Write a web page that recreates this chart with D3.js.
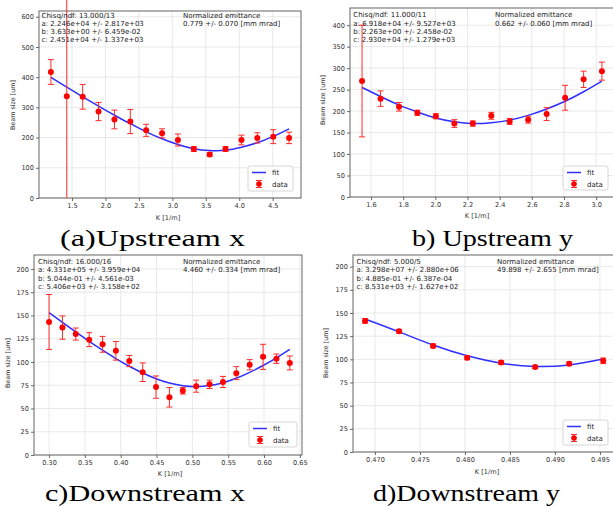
<!DOCTYPE html>
<html>
<head>
<meta charset="utf-8">
<script src="https://cdn.jsdelivr.net/npm/d3@7"></script>
<style>
  html, body { margin: 0; padding: 0; background: #fff; }
  svg { display: block; }
</style>
</head>
<body>
<div id="vis"></div>
<script>
// ---- data ----
// (a) Upstream x
var kUpX = [1.184, 1.421, 1.659, 1.896, 2.134, 2.371, 2.608, 2.846, 3.083, 3.321, 3.558, 3.795, 4.033, 4.270, 4.508, 4.745];
var sizeUpX = [417, 337, 335, 286, 260, 253, 224, 214, 192, 162, 144, 162, 192, 199, 203, 199];
var errUpX = [41, 340, 41, 30, 31, 40, 20, 15, 20, 8, 6, 8, 16, 17, 23, 19];
var fitUpX = [399, 367, 335, 304, 274, 246, 219, 196, 177, 163, 157, 158, 168, 183, 204, 229];
var textUpX = ["Chisq/ndf: 13.000/13", "a: 2.246e+04 +/- 2.817e+03", "b: 3.633e+00 +/- 6.459e-02", "c: 2.451e+04 +/- 1.337e+03"];
var emitUpX = ["Normalized emittance", "0.779 +/- 0.070 [mm mrad]"];

// (b) Upstream y
var kUpY = [1.544, 1.659, 1.774, 1.888, 2.003, 2.118, 2.233, 2.348, 2.462, 2.577, 2.692, 2.807, 2.922, 3.036];
var sizeUpY = [270, 229, 210, 196, 188, 171, 171, 189, 176, 180, 193, 231, 274, 293];
var errUpY = [130, 18, 10, 6, 6, 9, 6, 8, 7, 8, 15, 29, 19, 21];
var fitUpY = [255, 234, 214, 198, 184, 175, 171, 173, 179, 190, 205, 223, 245, 270];
var textUpY = ["Chisq/ndf: 11.000/11", "a: 6.918e+04 +/- 9.527e+03", "b: 2.263e+00 +/- 2.458e-02", "c: 2.930e+04 +/- 1.279e+03"];
var emitUpY = ["Normalized emittance", "0.662 +/- 0.060 [mm mrad]"];

// (c) Downstream x
var kDownX = [0.300, 0.3187, 0.3373, 0.356, 0.3747, 0.3933, 0.412, 0.4307, 0.4493, 0.468, 0.4867, 0.5053, 0.524, 0.5427, 0.5613, 0.580, 0.5987, 0.6173, 0.636];
var sizeDownX = [143, 137, 130, 124, 119, 112, 101, 89, 73, 62, 69, 74, 76, 78.5, 88, 97, 105.5, 103.5, 99];
var errDownX = [29.5, 12.5, 6.5, 7.5, 8.5, 10, 6, 10, 12, 10.5, 3.5, 6.5, 4.5, 6, 7, 5.5, 13.5, 5, 7.5];
var fitDownX = [153, 142.6, 132.3, 122.2, 112.7, 103.7, 95.4, 88.1, 82, 77.3, 74.4, 73.5, 74.6, 77.7, 82.5, 88.8, 96.2, 104.5, 113.6];
var textDownX = ["Chisq/ndf: 16.000/16", "a: 4.331e+05 +/- 3.959e+04", "b: 5.044e-01 +/- 4.561e-03", "c: 5.406e+03 +/- 3.158e+02"];
var emitDownX = ["Normalized emittance", "4.460 +/- 0.334 [mm mrad]"];

// (d) Downstream y
var kDownY = [0.4689, 0.47268, 0.47646, 0.48024, 0.48402, 0.4878, 0.49158, 0.49536];
var sizeDownY = [141.5, 130.3, 114.5, 101.6, 96.6, 91.6, 95.2, 98.4];
var errDownY = [2.5, 2, 2, 2, 2, 1.5, 2, 3];
var fitDownY = [143.5, 129.6, 115.4, 103.8, 95.9, 92.4, 94, 100.4];
var textDownY = ["Chisq/ndf: 5.000/5", "a: 3.298e+07 +/- 2.880e+06", "b: 4.885e-01 +/- 6.387e-04", "c: 8.531e+03 +/- 1.627e+02"];
var emitDownY = ["Normalized emittance", "49.898 +/- 2.655 [mm mrad]"];

var svg = d3.select("#vis").append("svg")
    .attr("width", 613)
    .attr("height", 507)
    .style("font-family", "DejaVu Sans");

svg.append("rect").attr("width", 613).attr("height", 507).attr("fill", "#fff");

var panels = [
    { id: "a", k: kUpX, y: sizeUpX, e: errUpX, fit: fitUpX, text: textUpX, emit: emitUpX,
      box: { x0: 39, x1: 301, y0: 11, y1: 198 }, xd: [1.006, 4.923], yd: [0, 619],
      xt: d3.range(1.5, 4.51, 0.5), yt: d3.range(0, 601, 100), xf: d3.format(".1f"),
      txt: { x: 41.5, y: 17.5, ex: 183 }, leg: { x: 248, y: 166, w: 45, h: 25 },
      ylab: { x: 12.7, y: 105 }, xlab: { x: 168, y: 219.5 },
      cap: { text: "(a)Upstream x", x: 60, y: 246, w: 185 } },
    { id: "b", k: kUpY, y: sizeUpY, e: errUpY, fit: fitUpY, text: textUpY, emit: emitUpY,
      box: { x0: 350, x1: 614, y0: 8, y1: 197 }, xd: [1.469, 3.111], yd: [0, 440],
      xt: d3.range(1.6, 3.01, 0.2), yt: d3.range(0, 401, 50), xf: d3.format(".1f"),
      txt: { x: 353.3, y: 17.3, ex: 495 }, leg: { x: 563, y: 166, w: 45, h: 24 },
      ylab: { x: 323, y: 100 }, xlab: { x: 477, y: 217.5 },
      cap: { text: "b) Upstream y", x: 412, y: 246, w: 161 } },
    { id: "c", k: kDownX, y: sizeDownX, e: errDownX, fit: fitDownX, text: textDownX, emit: emitDownX,
      box: { x0: 34, x1: 302, y0: 255, y1: 455 }, xd: [0.279, 0.653], yd: [0, 215],
      xt: d3.range(0.30, 0.651, 0.05), yt: d3.range(0, 201, 25), xf: d3.format(".2f"),
      txt: { x: 38, y: 264, ex: 183 }, leg: { x: 249, y: 422, w: 48, h: 25 },
      ylab: { x: 7.3, y: 363 }, xlab: { x: 170, y: 476 },
      cap: { text: "c)Downstream x", x: 45, y: 501, w: 200 } },
    { id: "d", k: kDownY, y: sizeDownY, e: errDownY, fit: fitDownY, text: textDownY, emit: emitDownY,
      box: { x0: 353, x1: 616, y0: 255, y1: 452 }, xd: [0.46756, 0.49678], yd: [0, 212.6],
      xt: d3.range(0.470, 0.4951, 0.005), yt: d3.range(0, 201, 25), xf: d3.format(".3f"),
      txt: { x: 356.5, y: 264, ex: 497 }, leg: { x: 563, y: 420, w: 45, h: 25 },
      ylab: { x: 325.7, y: 353 }, xlab: { x: 487, y: 474 },
      cap: { text: "d)Downstream y", x: 373, y: 501, w: 187 } }
];

panels.forEach(function (p) {
    var b = p.box;
    var x = d3.scaleLinear().domain(p.xd).range([b.x0, b.x1]);
    var y = d3.scaleLinear().domain(p.yd).range([b.y1, b.y0]);
    var g = svg.append("g");

    // clip: x inside the frame, y from the top of the picture down to the axis
    g.append("clipPath").attr("id", "clip-" + p.id)
        .append("rect")
        .attr("x", b.x0).attr("y", 0)
        .attr("width", b.x1 - b.x0).attr("height", b.y1);

    // grid
    g.selectAll(".gx").data(p.xt).enter().append("line")
        .attr("x1", function (d) { return x(d); }).attr("x2", function (d) { return x(d); })
        .attr("y1", b.y0).attr("y2", b.y1)
        .attr("stroke", "#e3e3e3").attr("stroke-width", 0.8);
    g.selectAll(".gy").data(p.yt).enter().append("line")
        .attr("y1", function (d) { return y(d); }).attr("y2", function (d) { return y(d); })
        .attr("x1", b.x0).attr("x2", b.x1)
        .attr("stroke", "#e3e3e3").attr("stroke-width", 0.8);

    // axes
    var xa = g.append("g")
        .attr("transform", "translate(0," + b.y1 + ")")
        .call(d3.axisBottom(x).tickValues(p.xt).tickFormat(p.xf).tickSizeOuter(0).tickSize(3));
    var ya = g.append("g")
        .attr("transform", "translate(" + b.x0 + ",0)")
        .call(d3.axisLeft(y).tickValues(p.yt).tickFormat(d3.format("d")).tickSizeOuter(0).tickSize(3));
    [xa, ya].forEach(function (a) {
        a.select("path.domain").remove();
        a.selectAll(".tick line").attr("stroke", "#444").attr("stroke-width", 0.8);
        a.selectAll(".tick text")
            .attr("fill", "#333")
            .style("font-family", "DejaVu Sans")
            .style("font-size", "6.6px");
    });
    xa.selectAll(".tick text").attr("dy", "0.9em").attr("y", 4);
    ya.selectAll(".tick text").attr("x", -5);

    // frame
    g.append("rect")
        .attr("x", b.x0).attr("y", b.y0)
        .attr("width", b.x1 - b.x0).attr("height", b.y1 - b.y0)
        .attr("fill", "none").attr("stroke", "#555").attr("stroke-width", 0.9);

    // axis labels
    g.append("text")
        .attr("transform", "translate(" + p.ylab.x + "," + p.ylab.y + ") rotate(-90)")
        .attr("text-anchor", "middle").attr("dy", "0.35em")
        .attr("fill", "#333").style("font-size", "6.4px")
        .text("Beam size [um]");
    g.append("text")
        .attr("x", p.xlab.x).attr("y", p.xlab.y)
        .attr("text-anchor", "middle")
        .attr("fill", "#333").style("font-size", "6.6px")
        .text("K [1/m]");

    var inner = g.append("g").attr("clip-path", "url(#clip-" + p.id + ")");

    // fit
    var pts = p.k.map(function (k, i) { return [k, p.fit[i]]; });
    inner.append("path")
        .datum(pts)
        .attr("d", d3.line()
            .x(function (d) { return x(d[0]); })
            .y(function (d) { return y(d[1]); })
            .curve(d3.curveNatural))
        .attr("fill", "none").attr("stroke", "#2f2fff").attr("stroke-width", 1.5);

    // error bars
    var eb = inner.selectAll(".eb").data(p.k).enter().append("g").attr("stroke", "#ff2a2a").attr("stroke-width", 1);
    eb.append("line")
        .attr("x1", function (d) { return x(d); }).attr("x2", function (d) { return x(d); })
        .attr("y1", function (d, i) { return y(p.y[i] + p.e[i]); })
        .attr("y2", function (d, i) { return y(p.y[i] - p.e[i]); });
    eb.append("line")
        .attr("x1", function (d) { return x(d) - 3; }).attr("x2", function (d) { return x(d) + 3; })
        .attr("y1", function (d, i) { return y(p.y[i] + p.e[i]); })
        .attr("y2", function (d, i) { return y(p.y[i] + p.e[i]); });
    eb.append("line")
        .attr("x1", function (d) { return x(d) - 3; }).attr("x2", function (d) { return x(d) + 3; })
        .attr("y1", function (d, i) { return y(p.y[i] - p.e[i]); })
        .attr("y2", function (d, i) { return y(p.y[i] - p.e[i]); });

    inner.selectAll(".pt").data(p.k).enter().append("circle")
        .attr("cx", function (d) { return x(d); })
        .attr("cy", function (d, i) { return y(p.y[i]); })
        .attr("r", 3).attr("fill", "#ff0000");

    // fit results text
    var t = g.append("g").attr("fill", "#222").style("font-size", "7px");
    p.text.forEach(function (s, i) {
        t.append("text").attr("x", p.txt.x).attr("y", p.txt.y + i * 8.3).text(s);
    });
    p.emit.forEach(function (s, i) {
        t.append("text").attr("x", p.txt.ex).attr("y", p.txt.y + i * 8.3).text(s);
    });

    // legend
    var L = p.leg;
    var lg = g.append("g");
    lg.append("rect")
        .attr("x", L.x).attr("y", L.y).attr("width", L.w).attr("height", L.h)
        .attr("rx", 2).attr("fill", "#fff").attr("stroke", "#ccc").attr("stroke-width", 0.8);
    lg.append("line")
        .attr("x1", L.x + 4).attr("x2", L.x + 18)
        .attr("y1", L.y + 6.5).attr("y2", L.y + 6.5)
        .attr("stroke", "#2f2fff").attr("stroke-width", 1.5);
    var mx = L.x + 11, my = L.y + 18;
    lg.append("line").attr("x1", mx).attr("x2", mx).attr("y1", my - 3.5).attr("y2", my + 3.5).attr("stroke", "#ff2a2a");
    lg.append("line").attr("x1", mx - 3).attr("x2", mx + 3).attr("y1", my - 3.5).attr("y2", my - 3.5).attr("stroke", "#ff2a2a");
    lg.append("line").attr("x1", mx - 3).attr("x2", mx + 3).attr("y1", my + 3.5).attr("y2", my + 3.5).attr("stroke", "#ff2a2a");
    lg.append("circle").attr("cx", mx).attr("cy", my).attr("r", 2.8).attr("fill", "#ff0000");
    lg.append("text").attr("x", L.x + 24).attr("y", L.y + 9).attr("fill", "#222").style("font-size", "7px").text("fit");
    lg.append("text").attr("x", L.x + 24).attr("y", L.y + 20.5).attr("fill", "#222").style("font-size", "7px").text("data");

    // caption
    svg.append("text")
        .attr("x", p.cap.x).attr("y", p.cap.y)
        .attr("textLength", p.cap.w).attr("lengthAdjust", "spacingAndGlyphs")
        .style("font-family", "Liberation Serif")
        .style("font-size", "23px")
        .attr("fill", "#000")
        .text(p.cap.text);
});
</script>
</body>
</html>
